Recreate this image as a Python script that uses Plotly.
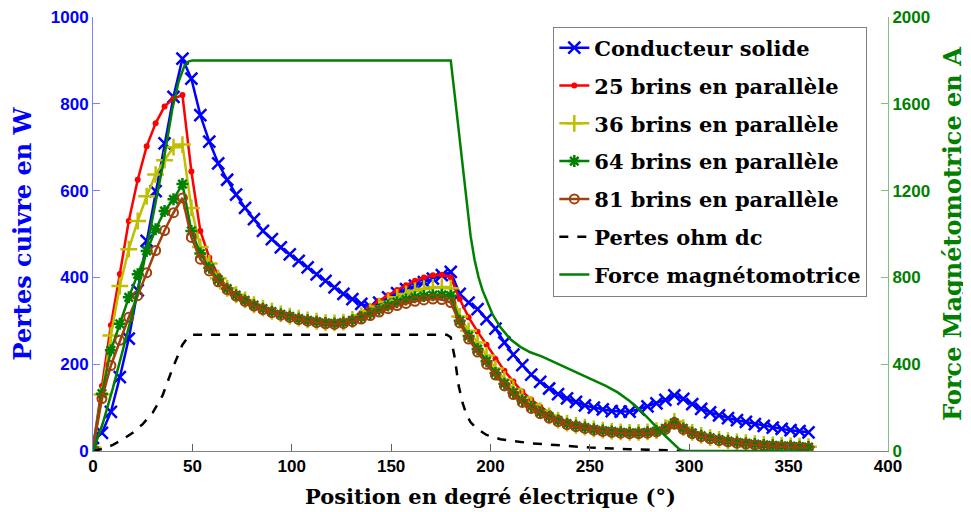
import plotly.graph_objects as go

# positions (degré électrique) where the loss curves were sampled
POS = [0, 4.5, 9, 13.5, 18, 22.5, 27, 31.5, 36, 40.5, 45, 49.5, 54, 58.5, 63, 67.5, 72, 76.5, 81, 85.5,
       90, 94.5, 99, 103.5, 108, 112.5, 117, 121.5, 126, 130.5, 135, 139.5, 144, 148.5, 153, 157.5, 162,
       166.5, 171, 175.5, 180, 184.5, 189, 193.5, 198, 202.5, 207, 211.5, 216, 220.5, 225, 229.5, 234,
       238.5, 243, 247.5, 252, 256.5, 261, 265.5, 270, 274.5, 279, 283.5, 288, 292.5, 297, 301.5, 306,
       310.5, 315, 319.5, 324, 328.5, 333, 337.5, 342, 346.5, 351, 355.5, 360]

SOLIDE = [30, 42, 90, 170, 259, 370, 484, 599, 709, 816, 904, 858, 774, 713, 663, 625, 591, 560, 534, 507,
          488, 469, 453, 438, 423, 407, 392, 377, 362, 350, 339, 332, 342, 354, 364, 373, 381, 389, 397, 405,
          413, 362, 342, 327, 304, 282, 250, 222, 198, 176, 159, 144, 131, 121, 113, 105, 100, 96, 92, 91,
          91, 96, 103, 110, 118, 128, 120, 108, 97, 89, 82, 76, 71, 67, 62, 58, 54, 51, 48, 46, 43]

B25 = [8, 150, 290, 408, 530, 625, 702, 755, 794, 812, 820, 644, 507, 446, 405, 376, 361, 349, 338, 330,
       323, 317, 312, 307, 303, 300, 297, 296, 298, 306, 318, 332, 346, 359, 371, 382, 392, 400, 405, 406,
       400, 350, 308, 275, 245, 212, 185, 160, 137, 118, 102, 88, 77, 68, 62, 57, 53, 49, 47, 45,
       44, 44, 45, 49, 56, 72, 56, 44, 37, 32, 28, 25, 22, 20, 18, 16, 15, 14, 13, 12, 11]

B36 = [8, 130, 266, 380, 465, 530, 587, 637, 670, 700, 706, 560, 470, 432, 398, 375, 360, 348, 337, 329,
       322, 316, 311, 306, 302, 299, 296, 295, 297, 303, 312, 322, 333, 344, 354, 362, 369, 374, 377, 378,
       375, 310, 277, 250, 220, 190, 165, 143, 124, 107, 93, 81, 71, 64, 59, 55, 51, 48, 46, 44,
       43, 43, 44, 47, 54, 68, 54, 43, 36, 31, 27, 24, 21, 19, 17, 15, 14, 13, 12, 11, 10]

B64 = [8, 132, 232, 293, 354, 407, 461, 511, 553, 580, 615, 507, 455, 422, 395, 374, 359, 347, 336, 328,
       321, 315, 310, 305, 301, 298, 295, 294, 296, 301, 308, 317, 326, 335, 343, 349, 354, 357, 359, 360,
       358, 300, 265, 235, 207, 180, 155, 135, 117, 102, 89, 79, 70, 63, 58, 54, 50, 47, 45, 43,
       42, 42, 43, 46, 52, 65, 52, 42, 35, 30, 26, 23, 20, 18, 16, 14, 13, 12, 11, 10, 9]

B81 = [5, 121, 197, 255, 308, 358, 411, 462, 508, 549, 583, 492, 442, 415, 390, 372, 357, 345, 334, 326,
       319, 313, 308, 303, 299, 296, 293, 292, 294, 298, 304, 312, 320, 328, 335, 340, 345, 348, 350, 349,
       342, 295, 258, 228, 200, 175, 150, 130, 112, 98, 86, 76, 68, 61, 56, 52, 48, 45, 43, 41,
       40, 40, 41, 44, 50, 62, 50, 40, 33, 28, 24, 21, 18, 16, 14, 12, 11, 10, 9, 8, 7]

DC_POS = [0, 5, 10, 15, 20, 25, 30, 35, 40, 45, 48, 50, 178, 180, 182, 184, 186, 188, 190, 193, 198,
          205, 220, 238, 250, 270, 290, 300]
DC = [0, 5, 14, 27, 42, 62, 88, 128, 190, 245, 263, 268, 268, 262, 215, 150, 110, 83, 66, 52, 37,
      27, 18, 11, 8, 4, 1.5, 0]

FMM_POS = [0, 5, 10, 15, 20, 25, 30, 35, 40, 43, 46, 48, 50, 180, 182, 184, 186, 188, 190, 192, 194,
           196, 198, 201, 205, 210, 215, 220, 226, 232, 238, 245, 252, 258, 264, 270, 275, 280, 285,
           290, 295, 297, 360]
FMM = [0, 130, 290, 460, 640, 840, 1070, 1310, 1580, 1700, 1775, 1795, 1800, 1800, 1640, 1470, 1300,
       1140, 990, 880, 800, 740, 695, 630, 570, 515, 480, 455, 435, 410, 385, 355, 325, 300, 270, 230,
       190, 145, 95, 50, 8, 0, 0]

SERIF = "DejaVu Serif"
SANS = "Liberation Sans"

fig = go.Figure()

fig.add_trace(go.Scatter(x=POS, y=SOLIDE, name="Conducteur solide", legendgroup="a", mode="lines+markers",
                         line=dict(color="#0000ff", width=2.5),
                         marker=dict(symbol="x-thin", size=12, line=dict(color="#0000ff", width=2.5))))
fig.add_trace(go.Scatter(x=POS, y=B25, name="25 brins en parallèle", legendgroup="b", mode="lines+markers",
                         line=dict(color="#ff0000", width=2.5),
                         marker=dict(symbol="circle", size=6, color="#ff0000")))
fig.add_trace(go.Scatter(x=POS, y=B36, name="36 brins en parallèle", legendgroup="c", mode="lines+markers",
                         line=dict(color="#bfbf00", width=2.5),
                         marker=dict(symbol="cross-thin", size=12, line=dict(color="#bfbf00", width=2.5))))
fig.add_trace(go.Scatter(x=POS, y=B64, name="64 brins en parallèle", legendgroup="d", mode="lines+markers",
                         line=dict(color="#008000", width=2.5),
                         marker=dict(symbol="asterisk", size=10, line=dict(color="#008000", width=2.5))))
fig.add_trace(go.Scatter(x=POS, y=B81, name="81 brins en parallèle", legendgroup="e", mode="lines+markers",
                         line=dict(color="#a0400f", width=2.5),
                         marker=dict(symbol="circle-open", size=9, line=dict(color="#a0400f", width=2))))
fig.add_trace(go.Scatter(x=DC_POS, y=DC, name="Pertes ohm dc", legendgroup="f", mode="lines",
                         line=dict(color="black", width=2.5, dash="dash")))
fig.add_trace(go.Scatter(x=FMM_POS, y=FMM, name="Force magnétomotrice", legendgroup="g", mode="lines",
                         line=dict(color="#008000", width=2.5), yaxis="y2"))

# the page body adds an 8 px offset, so the figure is sized to fill the window from there
fig.update_layout(
    width=963, height=504,
    margin=dict(l=85, r=83, t=9, b=61),
    plot_bgcolor="white", paper_bgcolor="white",
    xaxis=dict(range=[0, 400], dtick=50, showline=True, linecolor="#808080", linewidth=1,
               ticks="inside", ticklen=7, tickcolor="#606060", showgrid=False, zeroline=False,
               automargin=False, ticklabeloverflow="allow",
               tickfont=dict(family=SANS, size=17, color="black", weight="bold"),
               title=dict(text="Position en degré électrique (°)", standoff=13,
                          font=dict(family=SERIF, size=21, color="black", weight="bold"))),
    yaxis=dict(range=[0, 1000], dtick=200, showline=True, linecolor="#8080ff", linewidth=1,
               ticks="inside", ticklen=7, tickcolor="#8080ff", showgrid=False, zeroline=False,
               automargin=False, ticklabeloverflow="allow",
               tickfont=dict(family=SANS, size=17, color="#0000ff", weight="bold"),
               title=dict(text="Pertes cuivre en W", standoff=22,
                          font=dict(family=SERIF, size=24, color="#0000ff", weight="bold"))),
    yaxis2=dict(range=[0, 2000], dtick=400, overlaying="y", side="right", showline=True,
                linecolor="#80c080", linewidth=1, ticks="inside", ticklen=7, tickcolor="#80c080",
                showgrid=False, zeroline=False, automargin=False, ticklabeloverflow="allow",
                tickfont=dict(family=SANS, size=17, color="#008000", weight="bold"),
                title=dict(text="Force Magnétomotrice en A", standoff=14,
                           font=dict(family=SERIF, size=24, color="#008000", weight="bold"))),
    legend=dict(x=0.579, y=0.978, xanchor="left", yanchor="top", bgcolor="white",
                bordercolor="#808080", borderwidth=1, tracegroupgap=7.5,
                font=dict(family=SERIF, size=21, color="black", weight="bold")),
)

fig.write_html("out.html")
